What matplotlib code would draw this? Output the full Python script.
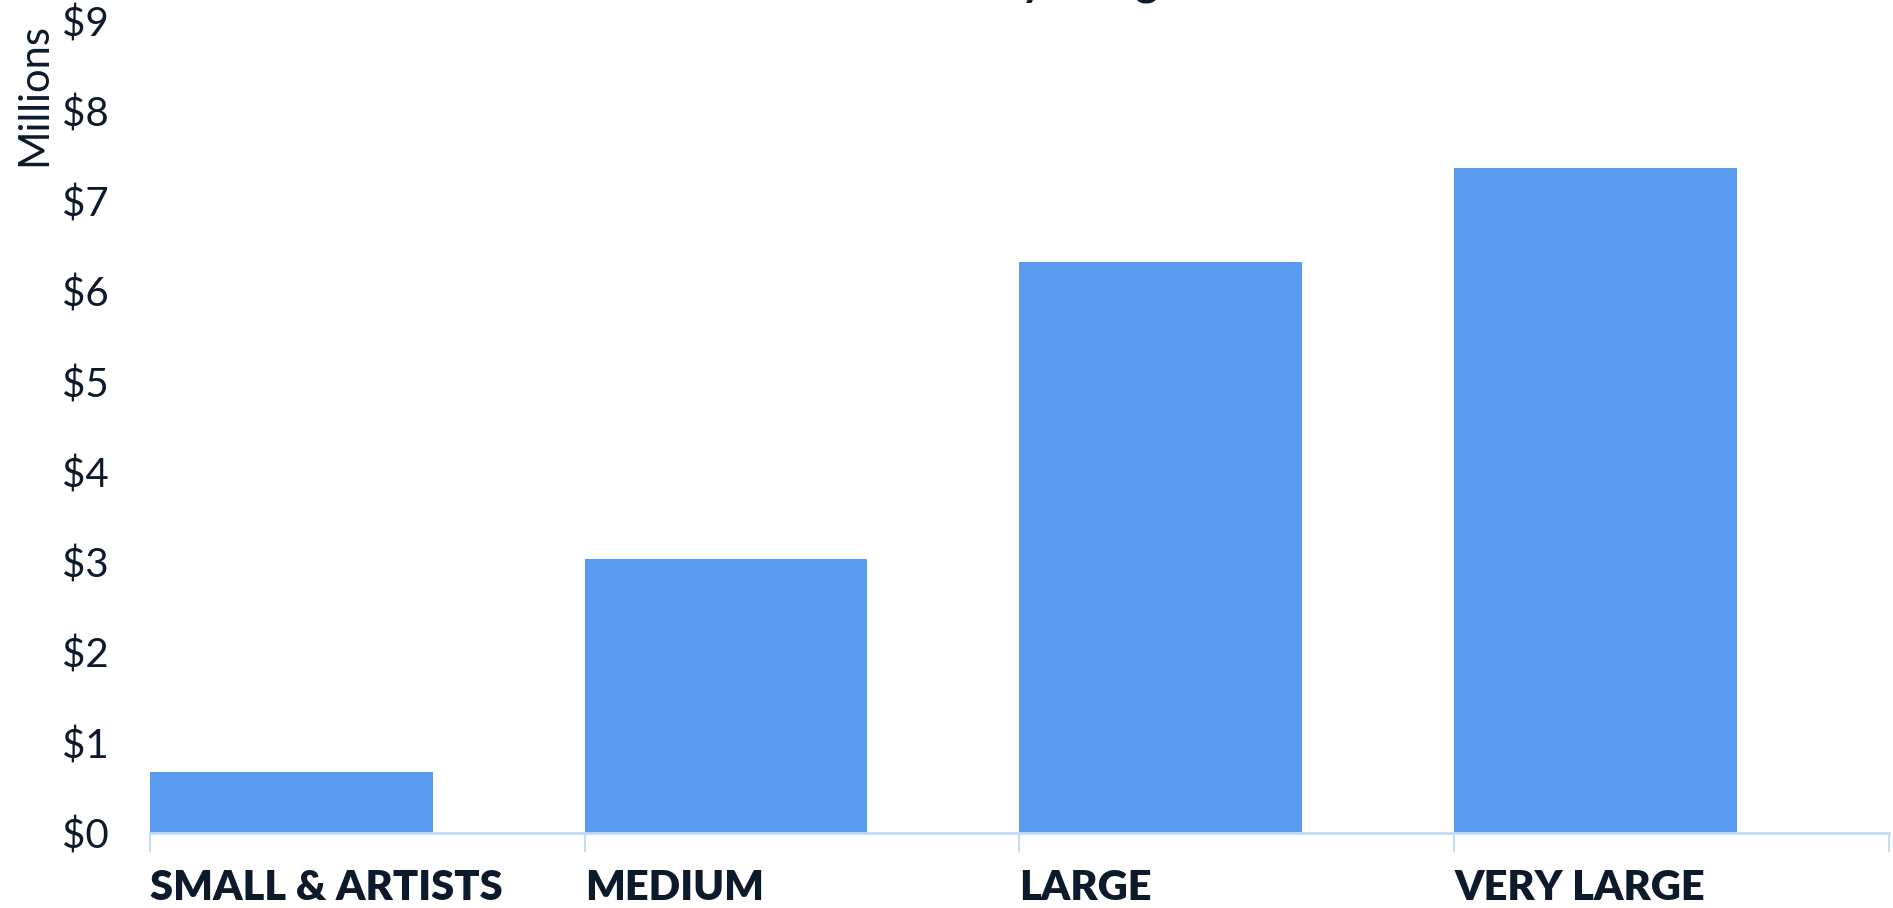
import matplotlib
matplotlib.use("Agg")
import matplotlib.pyplot as plt
import numpy as np

categories = ['SMALL & ARTISTS', 'MEDIUM', 'LARGE', 'VERY LARGE']
values = [0.68, 3.04, 6.32, 7.37]  # millions of dollars
y_ticks = [0, 1, 2, 3, 4, 5, 6, 7, 8, 9]

bar_color = '#5B9BEF'
axis_color = '#C3DCF7'
text_color = '#0D1A2B'

plt.rcParams['font.family'] = ['Lato', 'DejaVu Sans']

fig = plt.figure(figsize=(18.93, 9.08), dpi=100)
ax = fig.add_axes([0.0792, 0.0826, 0.9187, 0.8948])

pos = np.arange(len(categories))
ax.bar(pos, values, width=0.65, align='edge', color=bar_color)

ax.set_xlim(0, len(categories))
ax.set_ylim(0, 9)

ax.set_yticks(y_ticks)
ax.set_yticklabels(['${}'.format(v) for v in y_ticks])
ax.tick_params(axis='y', length=0, pad=30, labelsize=29, labelcolor=text_color)

ax.set_xticks(list(pos) + [len(categories)])
ax.set_xticklabels(categories + [''], ha='left', fontweight='heavy')
ax.tick_params(axis='x', length=14, width=1.5, color=axis_color, pad=12,
               labelsize=30, labelcolor=text_color)

for side in ['top', 'right', 'left']:
    ax.spines[side].set_visible(False)
ax.spines['bottom'].set_color(axis_color)
ax.spines['bottom'].set_linewidth(2)

fig.text(0.008, 0.975, 'Millions', rotation=90, ha='left', va='top',
         fontsize=30, color=text_color)

# title sits mostly above the visible area, only descenders show
fig.text(0.525, 1.0055, 'Total Revenue by Budget Size', ha='center', va='baseline',
         fontsize=32, fontweight='bold', color=text_color)

fig.savefig('out.png', dpi=100)
